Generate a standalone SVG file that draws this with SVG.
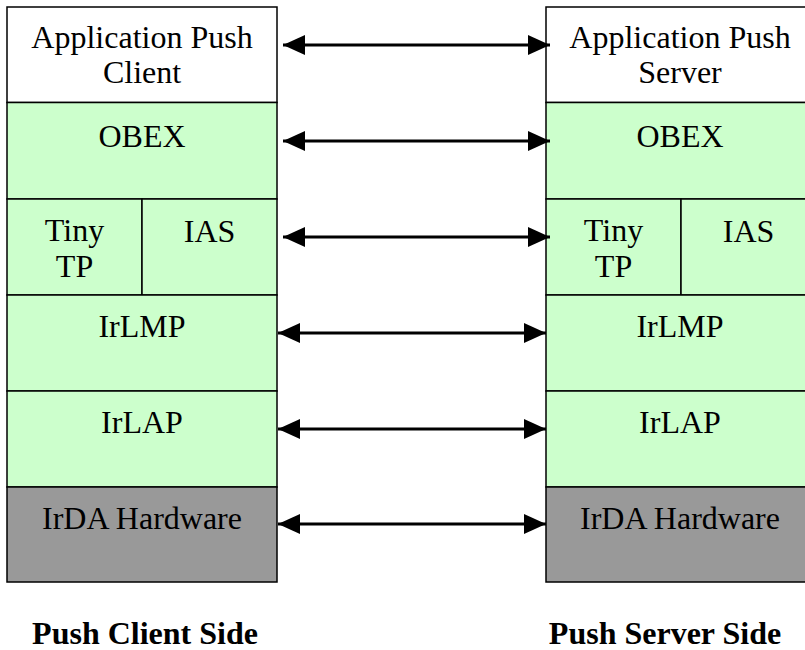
<svg xmlns="http://www.w3.org/2000/svg" width="805" height="650" viewBox="0 0 805 650">
<defs>
<marker id="ah" viewBox="0 0 22 20" refX="22" refY="10" markerWidth="22" markerHeight="20" markerUnits="userSpaceOnUse" orient="auto-start-reverse">
<path d="M0,0 L22,10 L0,20 Z" fill="#000"/>
</marker>
<style>
rect.w, rect.g, rect.h { stroke: #000; stroke-width: 1.5; }
.w { fill: #fff; }
.g { fill: #ccffcc; }
.h { fill: #999999; }
text { font-family: "Liberation Serif", "Times New Roman", serif; font-size: 32px; fill: #000; text-anchor: middle; }
text.b { font-weight: bold; }
.conn line { stroke: #000; stroke-width: 3; marker-start: url(#ah); marker-end: url(#ah); }
</style>
</defs>
<rect x="0" y="0" width="805" height="650" fill="#fff"/>
<g id="client-stack">
<g id="c-app"><rect class="w" x="7" y="7" width="270" height="95.5"/><text x="142" y="48">Application Push</text><text x="142" y="83">Client</text></g>
<g id="c-obex"><rect class="g" x="7" y="102.5" width="270" height="96.5"/><text x="142" y="147">OBEX</text></g>
<g id="c-tinytp"><rect class="g" x="7" y="199" width="135" height="96"/><text x="74.5" y="241">Tiny</text><text x="74.5" y="277">TP</text></g>
<g id="c-ias"><rect class="g" x="142" y="199" width="135" height="96"/><text x="209.5" y="242">IAS</text></g>
<g id="c-irlmp"><rect class="g" x="7" y="295" width="270" height="96"/><text x="142" y="337">IrLMP</text></g>
<g id="c-irlap"><rect class="g" x="7" y="391" width="270" height="96"/><text x="142" y="433">IrLAP</text></g>
<g id="c-hw"><rect class="h" x="7" y="487" width="270" height="95"/><text x="142" y="529">IrDA Hardware</text></g>
</g>
<g id="server-stack">
<g id="s-app"><rect class="w" x="546" y="7" width="270" height="95.5"/><text x="680" y="48">Application Push</text><text x="680" y="83">Server</text></g>
<g id="s-obex"><rect class="g" x="546" y="102.5" width="270" height="96.5"/><text x="680" y="147">OBEX</text></g>
<g id="s-tinytp"><rect class="g" x="546" y="199" width="135" height="96"/><text x="613.5" y="241">Tiny</text><text x="613.5" y="277">TP</text></g>
<g id="s-ias"><rect class="g" x="681" y="199" width="135" height="96"/><text x="748.5" y="242">IAS</text></g>
<g id="s-irlmp"><rect class="g" x="546" y="295" width="270" height="96"/><text x="680" y="337">IrLMP</text></g>
<g id="s-irlap"><rect class="g" x="546" y="391" width="270" height="96"/><text x="680" y="433">IrLAP</text></g>
<g id="s-hw"><rect class="h" x="546" y="487" width="270" height="95"/><text x="680" y="529">IrDA Hardware</text></g>
</g>
<g id="connectors" class="conn">
<line x1="283" y1="45" x2="550" y2="45"/>
<line x1="283" y1="141" x2="550" y2="141"/>
<line x1="283" y1="237" x2="550" y2="237"/>
<line x1="278" y1="333" x2="546" y2="333"/>
<line x1="278" y1="429" x2="546" y2="429"/>
<line x1="278" y1="524" x2="546" y2="524"/>
</g>
<g id="labels">
<text class="b" x="145" y="644">Push Client Side</text>
<text class="b" x="665" y="644">Push Server Side</text>
</g>
</svg>
